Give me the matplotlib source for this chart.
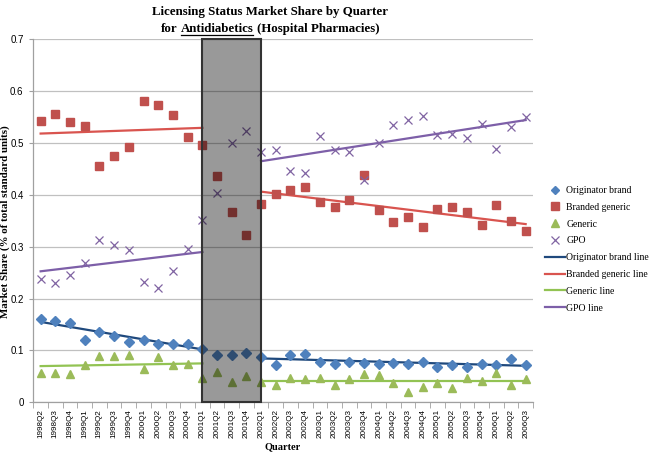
import matplotlib
matplotlib.use("Agg")
import matplotlib.pyplot as plt
from matplotlib.patches import Rectangle
from matplotlib.lines import Line2D
import numpy as np

quarters = ["1998Q2", "1998Q3", "1998Q4",
            "1999Q1", "1999Q2", "1999Q3", "1999Q4",
            "2000Q1", "2000Q2", "2000Q3", "2000Q4",
            "2001Q1", "2001Q2", "2001Q3", "2001Q4",
            "2002Q1", "2002Q2", "2002Q3", "2002Q4",
            "2003Q1", "2003Q2", "2003Q3", "2003Q4",
            "2004Q1", "2004Q2", "2004Q3", "2004Q4",
            "2005Q1", "2005Q2", "2005Q3", "2005Q4",
            "2006Q1", "2006Q2", "2006Q3"]

originator = [0.160, 0.157, 0.153, 0.121, 0.135, 0.128, 0.116, 0.120, 0.113, 0.112, 0.113,
              0.102, 0.092, 0.092, 0.095, 0.087, 0.072, 0.092, 0.093, 0.078, 0.074, 0.077,
              0.075, 0.074, 0.076, 0.074, 0.077, 0.069, 0.072, 0.069, 0.074, 0.071, 0.083, 0.071]
branded = [0.542, 0.555, 0.540, 0.532, 0.456, 0.475, 0.493, 0.581, 0.574, 0.554, 0.512,
           0.495, 0.437, 0.367, 0.322, 0.382, 0.401, 0.410, 0.415, 0.386, 0.377, 0.389,
           0.438, 0.370, 0.347, 0.358, 0.338, 0.372, 0.377, 0.366, 0.342, 0.380, 0.349, 0.330]
generic = [0.057, 0.056, 0.054, 0.072, 0.090, 0.090, 0.092, 0.064, 0.087, 0.071, 0.074,
           0.046, 0.058, 0.039, 0.051, 0.039, 0.033, 0.047, 0.045, 0.046, 0.033, 0.045,
           0.055, 0.053, 0.037, 0.020, 0.030, 0.037, 0.028, 0.047, 0.042, 0.056, 0.034, 0.045]
gpo = [0.237, 0.229, 0.245, 0.269, 0.313, 0.303, 0.293, 0.231, 0.221, 0.253, 0.296,
       0.352, 0.404, 0.499, 0.523, 0.482, 0.487, 0.446, 0.442, 0.513, 0.487, 0.483,
       0.428, 0.500, 0.535, 0.544, 0.552, 0.515, 0.517, 0.509, 0.537, 0.489, 0.531, 0.550]

# trend line end points (pre-period: 1998Q2-2001Q1, post-period: 2002Q1-2006Q3)
pre_period = ["1998Q2", "2001Q1"]
post_period = ["2002Q1", "2006Q3"]
originator_line_pre = [0.155, 0.102]
originator_line_post = [0.0846, 0.0704]
branded_line_pre = [0.518, 0.529]
branded_line_post = [0.406, 0.3435]
generic_line_pre = [0.0698, 0.075]
generic_line_post = [0.041, 0.041]
gpo_line_pre = [0.2525, 0.2897]
gpo_line_post = [0.4647, 0.544]

shaded_period = ["2001Q1", "2002Q1"]

serif = ["Liberation Serif", "DejaVu Serif"]
sans = ["Liberation Sans", "DejaVu Sans"]

fig = plt.figure(figsize=(6.5, 4.55), dpi=100)
ax = fig.add_axes([0.0512, 0.1158, 0.7688, 0.7982])

x = np.arange(len(quarters))
idx = {q: i for i, q in enumerate(quarters)}

c_orig, c_brand, c_gen, c_gpo = "#4F81BD", "#C0504D", "#9BBB59", "#8064A2"
l_orig, l_brand, l_gen, l_gpo = "#1F497D", "#D9544F", "#92C353", "#7D5FA8"

ax.plot(x, originator, ls="none", marker="D", ms=5, color=c_orig, label="Originator brand", zorder=3)
ax.plot(x, branded, ls="none", marker="s", ms=6, color=c_brand, label="Branded generic", zorder=3)
ax.plot(x, generic, ls="none", marker="^", ms=6, color=c_gen, label="Generic", zorder=3)
ax.plot(x, gpo, ls="none", marker="x", ms=6, mew=0.9, color=c_gpo, label="GPO", zorder=3)

xp = [idx[q] for q in pre_period]
xq = [idx[q] for q in post_period]
for pre, post, col, lab in [(originator_line_pre, originator_line_post, l_orig, "Originator brand line"),
                            (branded_line_pre, branded_line_post, l_brand, "Branded generic line"),
                            (generic_line_pre, generic_line_post, l_gen, "Generic line"),
                            (gpo_line_pre, gpo_line_post, l_gpo, "GPO line")]:
    ax.plot(xp, pre, color=col, lw=1.6, label=lab, zorder=2)
    ax.plot(xq, post, color=col, lw=1.6, zorder=2)

s0, s1 = idx[shaded_period[0]], idx[shaded_period[1]]
ax.add_patch(Rectangle((s0, 0), s1 - s0, 0.7, facecolor=(0, 0, 0, 0.4),
                       edgecolor="#333333", lw=1.5, zorder=5, clip_on=False))

ax.set_xlim(-0.5, len(quarters) - 0.5)
ax.set_ylim(0, 0.7)
ax.set_yticks(np.arange(0, 0.71, 0.1))
ax.set_yticklabels(["0", "0.1", "0.2", "0.3", "0.4", "0.5", "0.6", "0.7"], family=sans, fontsize=7)
ax.yaxis.grid(True, color="#C0C0C0", lw=0.9)
ax.set_axisbelow(True)
ax.tick_params(axis="y", length=3, color="#A0A0A0", pad=4)

ax.set_xticks(x)
ax.set_xticklabels(quarters, rotation=90, family=sans, fontsize=5.9)
ax.tick_params(axis="x", which="major", length=0, pad=5)
ax.set_xticks(np.arange(-0.5, len(quarters), 1), minor=True)
ax.tick_params(axis="x", which="minor", length=4, color="#A0A0A0")

for s in ["top", "right"]:
    ax.spines[s].set_visible(False)
for s in ["left", "bottom"]:
    ax.spines[s].set_color("#A0A0A0")
    ax.spines[s].set_linewidth(0.9)

fig.text(283 / 650, 1 - 447 / 455, "Quarter", ha="center", va="center",
         family=serif, fontweight="bold", fontsize=7.5)
fig.text(5 / 650, 1 - 222 / 455, "Market Share (% of total standard units)", ha="center", va="center",
         rotation=90, family=serif, fontweight="bold", fontsize=7.8)

leg = fig.legend(loc="center left", bbox_to_anchor=(0.838, 0.452), frameon=False,
                 prop={"family": serif, "size": 7}, handlelength=2.06, handletextpad=0.15,
                 labelspacing=0.8, borderpad=0, borderaxespad=0, markerscale=0.85)

# Title with underlined word
tfont = dict(family=serif, fontweight="bold", fontsize=9.3)
xc = 270 / 650
fig.text(xc, 1 - 12 / 455, "Licensing Status Market Share by Quarter", ha="center", va="center", **tfont)
y2 = 1 - 32 / 455
t1 = fig.text(xc, y2, "for", ha="left", va="baseline", **tfont)
t2 = fig.text(xc, y2, "Antidiabetics", ha="left", va="baseline", **tfont)
t3 = fig.text(xc, y2, "(Hospital Pharmacies)", ha="left", va="baseline", **tfont)
fig.canvas.draw()
r = fig.canvas.get_renderer()
sp = 3.2
w1 = t1.get_window_extent(r).width
w2 = t2.get_window_extent(r).width
w3 = t3.get_window_extent(r).width
total = w1 + w2 + w3 + 2 * sp
W = fig.bbox.width
left = xc * W - total / 2
t1.set_x(left / W)
t2.set_x((left + w1 + sp) / W)
t3.set_x((left + w1 + w2 + 2 * sp) / W)
fig.canvas.draw()
bb = t2.get_window_extent(r)
uy = (bb.y0 + 0.5) / fig.bbox.height
fig.add_artist(Line2D([bb.x0 / W, bb.x1 / W], [uy, uy], transform=fig.transFigure,
                      color="black", lw=0.9))

fig.savefig("out.png", dpi=100)
